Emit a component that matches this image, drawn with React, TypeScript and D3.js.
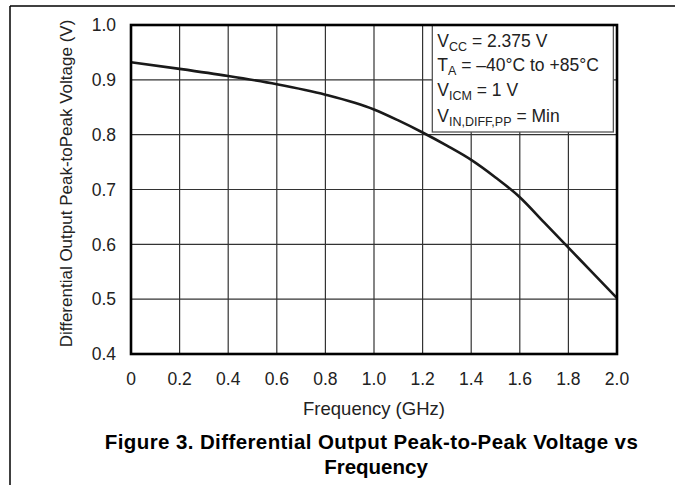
import React from "react";
import * as d3 from "d3";

// curve
const freqGHz = [0, 0.2, 0.4, 0.6, 0.8, 1.0, 1.1, 1.2, 1.3, 1.4, 1.5, 1.6, 1.7, 1.8, 1.9, 2.0];
const vppVolts = [0.932, 0.92, 0.907, 0.892, 0.873, 0.846, 0.826, 0.804, 0.78, 0.754, 0.722, 0.686, 0.64, 0.594, 0.548, 0.502];

const xTicks = [0, 0.2, 0.4, 0.6, 0.8, 1.0, 1.2, 1.4, 1.6, 1.8, 2.0];
const xTickLabels = ["0", "0.2", "0.4", "0.6", "0.8", "1.0", "1.2", "1.4", "1.6", "1.8", "2.0"];
const yTicks = [0.4, 0.5, 0.6, 0.7, 0.8, 0.9, 1.0];
const yTickLabels = ["0.4", "0.5", "0.6", "0.7", "0.8", "0.9", "1.0"];

const W = 675;
const H = 485;
const margin = { top: 25, right: 58, bottom: 131, left: 131 };
const FONT = "'Liberation Sans', Arial, Helvetica, sans-serif";

export default function App() {
  const iw = W - margin.left - margin.right;
  const ih = H - margin.top - margin.bottom;

  const x = d3.scaleLinear().domain([0, 2]).range([0, iw]);
  const y = d3.scaleLinear().domain([0.4, 1.0]).range([ih, 0]);

  const line = d3
    .line<number>()
    .x((_, i) => x(freqGHz[i]))
    .y((d) => y(d))
    .curve(d3.curveMonotoneX);

  const legendX = x(1.24);
  const legendW = x(1.985) - legendX;
  const legendH = 107;
  const sub = 12.5;

  return (
    <svg
      width={W}
      height={H}
      style={{ position: "absolute", left: 0, top: 0, background: "#fff" }}
      fontFamily={FONT}
    >
      {/* outer frame, left and top only */}
      <line x1={10} y1={6} x2={10} y2={H} stroke="#000" strokeWidth={1.5} />
      <line x1={10} y1={6} x2={W} y2={6} stroke="#000" strokeWidth={1.5} />

      <g transform={`translate(${margin.left},${margin.top})`}>
        {/* grid */}
        {xTicks.map((t) => (
          <line key={"gx" + t} x1={x(t)} x2={x(t)} y1={0} y2={ih} stroke="#333" strokeWidth={1.2} />
        ))}
        {yTicks.map((t) => (
          <line key={"gy" + t} x1={0} x2={iw} y1={y(t)} y2={y(t)} stroke="#333" strokeWidth={1.2} />
        ))}

        {/* legend box */}
        <rect x={legendX} y={0} width={legendW} height={legendH} fill="#fff" stroke="#555" strokeWidth={1.3} />
        <g fontSize={17.5} fill="#222">
          <text x={legendX + 5} y={22}>
            V<tspan fontSize={sub} dy={4}>CC</tspan>
            <tspan dy={-4}> = 2.375 V</tspan>
          </text>
          <text x={legendX + 5} y={45.5}>
            T<tspan fontSize={sub} dy={4}>A</tspan>
            <tspan dy={-4}> = –40°C to +85°C</tspan>
          </text>
          <text x={legendX + 5} y={71}>
            V<tspan fontSize={sub} dy={4}>ICM</tspan>
            <tspan dy={-4}> = 1 V</tspan>
          </text>
          <text x={legendX + 5} y={96.5}>
            V<tspan fontSize={sub} dy={4}>IN,DIFF,PP</tspan>
            <tspan dy={-4}> = Min</tspan>
          </text>
        </g>

        {/* data curve */}
        <path d={line(vppVolts) ?? ""} fill="none" stroke="#1a1a1a" strokeWidth={2.6} />

        {/* plot border */}
        <rect x={0} y={0} width={iw} height={ih} fill="none" stroke="#000" strokeWidth={2.6} />

        {/* y tick labels */}
        {yTicks.map((t, i) => (
          <text key={"yl" + t} x={-15} y={y(t)} dy="0.36em" textAnchor="end" fontSize={17.5} fill="#222">
            {yTickLabels[i]}
          </text>
        ))}

        {/* x tick labels */}
        {xTicks.map((t, i) => (
          <text key={"xl" + t} x={x(t)} y={ih + 31} textAnchor="middle" fontSize={17.5} fill="#222">
            {xTickLabels[i]}
          </text>
        ))}

        <text x={iw / 2} y={ih + 61} textAnchor="middle" fontSize={18.5} fill="#222">
          Frequency (GHz)
        </text>

        <text
          transform={`translate(${-59},${ih / 2 - 6}) rotate(-90)`}
          textAnchor="middle"
          fontSize={17}
          fill="#222"
        >
          Differential Output Peak-toPeak Voltage (V)
        </text>
      </g>

      {/* caption */}
      <g fontWeight="bold" fontSize={20.5} fill="#000" textAnchor="middle">
        <text x={371.5} y={449} letterSpacing={0.4}>
          Figure 3. Differential Output Peak-to-Peak Voltage vs
        </text>
        <text x={376} y={474}>Frequency</text>
      </g>
    </svg>
  );
}
